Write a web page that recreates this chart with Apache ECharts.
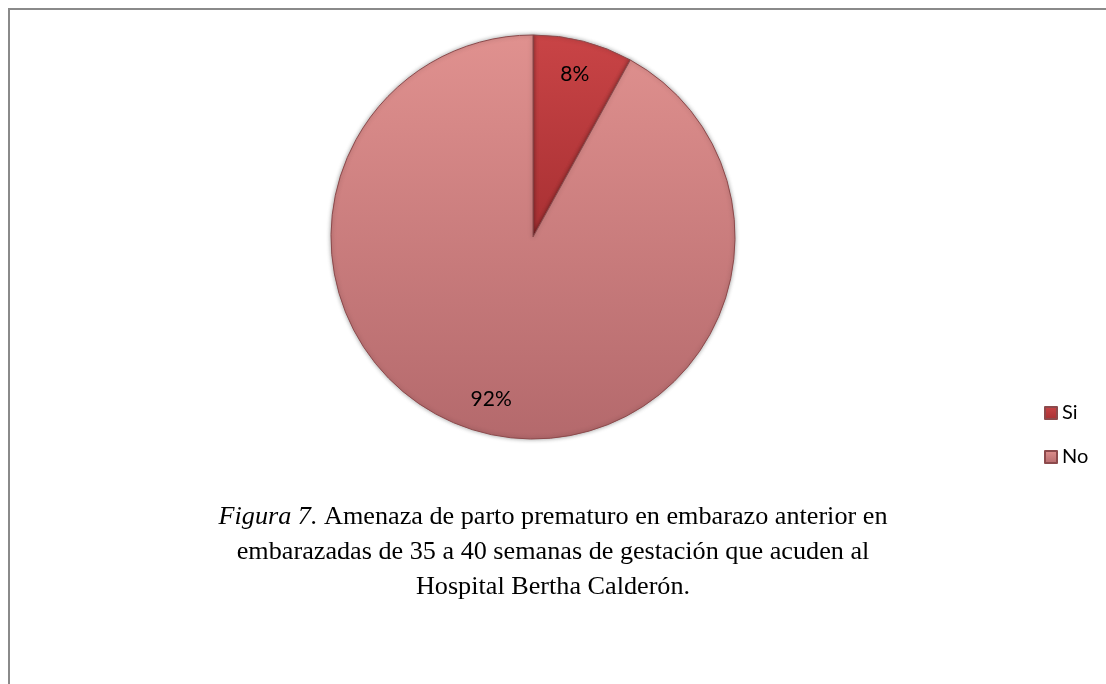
<!DOCTYPE html>
<html>
<head>
<meta charset="utf-8">
<script src="https://cdn.jsdelivr.net/npm/echarts@6/dist/echarts.min.js"></script>
<style>
  html, body { margin: 0; padding: 0; background: #fff; }
  #chart { width: 1106px; height: 684px; }
</style>
</head>
<body>
<div id="chart"></div>
<script>
const categories = ['Si', 'No'];
const values = [8, 92];

const fills = [
  new echarts.graphic.LinearGradient(0, 0, 0, 1, [
    { offset: 0, color: '#c94446' },
    { offset: 1, color: '#a83033' }
  ]),
  new echarts.graphic.LinearGradient(0, 0, 0, 1, [
    { offset: 0, color: '#e0918f' },
    { offset: 1, color: '#b4696c' }
  ])
];

const pieData = categories.map((name, i) => ({
  name: name,
  value: values[i],
  itemStyle: { color: fills[i] }
}));

const chart = echarts.init(document.getElementById('chart'));
chart.setOption({
  backgroundColor: '#fff',
  animation: false,
  legend: {
    orient: 'vertical',
    left: 1039,
    top: 398,
    itemWidth: 12,
    itemHeight: 12,
    itemGap: 24,
    icon: 'rect',
    data: categories,
    textStyle: { fontFamily: 'Lato', fontSize: 20, color: '#000', padding: [0, 0, 0, 0] }
  },
  title: {
    left: 548,
    top: 495,
    textAlign: 'center',
    text: '{i|Figura 7.} Amenaza de parto prematuro en embarazo anterior en\nembarazadas de 35 a 40 semanas de gestación que acuden al\nHospital Bertha Calderón.',
    textStyle: {
      fontFamily: 'Liberation Serif',
      fontSize: 26.2,
      fontWeight: 'normal',
      color: '#000',
      lineHeight: 35,
      align: 'center',
      rich: {
        i: { fontFamily: 'Liberation Serif', fontSize: 26.2, fontStyle: 'italic', lineHeight: 35 }
      }
    }
  },
  graphic: [
    { type: 'line', shape: { x1: 8, y1: 9, x2: 1106, y2: 9 }, style: { stroke: '#8a8a8a', lineWidth: 2 } },
    { type: 'line', shape: { x1: 9, y1: 8, x2: 9, y2: 684 }, style: { stroke: '#8a8a8a', lineWidth: 2 } }
  ],
  series: [
    {
      type: 'pie',
      center: [533, 237],
      radius: [0, 202],
      startAngle: 90,
      clockwise: true,
      silent: true,
      label: { show: false },
      labelLine: { show: false },
      itemStyle: {
        borderColor: '#8c4a4c',
        borderWidth: 1,
        shadowBlur: 4,
        shadowColor: 'rgba(0,0,0,0.35)'
      },
      data: pieData
    },
    {
      type: 'pie',
      center: [533, 237],
      radius: [128, 202],
      startAngle: 90,
      clockwise: true,
      silent: true,
      legendHoverLink: false,
      itemStyle: { color: 'transparent' },
      label: {
        show: true,
        position: 'inside',
        formatter: '{c}%',
        fontFamily: 'Lato',
        fontSize: 21,
        color: '#000'
      },
      labelLine: { show: false },
      data: categories.map((name, i) => ({ name: name + ' ', value: values[i] }))
    }
  ]
});
</script>
</body>
</html>
